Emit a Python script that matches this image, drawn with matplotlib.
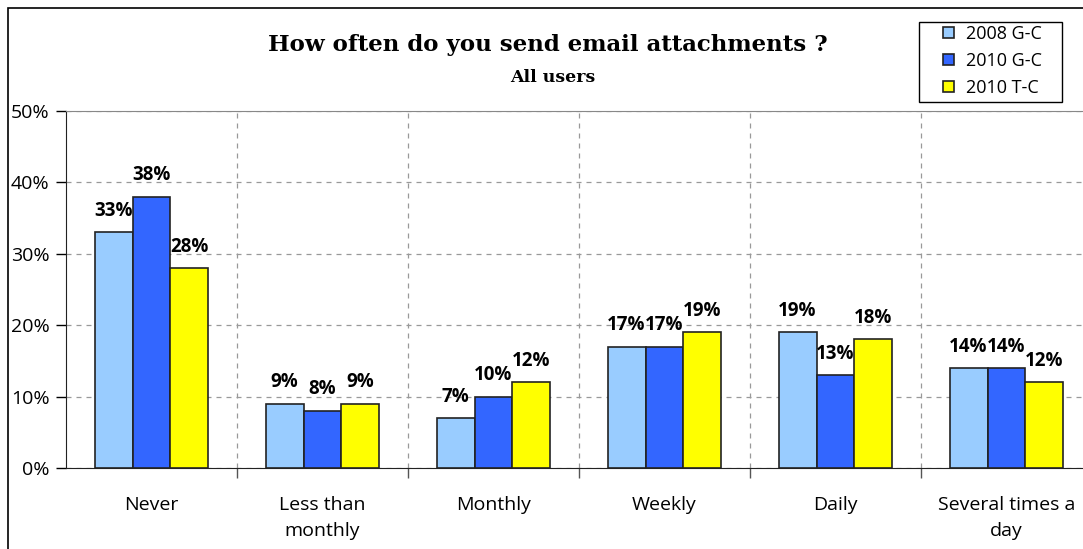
import numpy as np
import matplotlib
matplotlib.use("Agg")
import matplotlib.pyplot as plt
from matplotlib.patches import Rectangle

# data
categories = ["Never", "Less than\nmonthly", "Monthly", "Weekly", "Daily", "Several times a\nday"]
series_names = ["2008 G-C", "2010 G-C", "2010 T-C"]
g2008 = [33, 9, 7, 17, 19, 14]
g2010 = [38, 8, 10, 17, 13, 14]
t2010 = [28, 9, 12, 19, 18, 12]
colors = ["#99CCFF", "#3366FF", "#FFFF00"]

plt.rcParams['font.family'] = ['Open Sans', 'DejaVu Sans']

fig = plt.figure(figsize=(10.83, 5.49), dpi=100)
ax = fig.add_axes([66/1083, 81/549, 1026/1083, 357/549])

x = np.arange(len(categories))
w = 0.222
for i, (vals, name) in enumerate(zip([g2008, g2010, t2010], series_names)):
    pos = x + (i - 1) * w
    ax.bar(pos, vals, width=w, color=colors[i], edgecolor="#222222", linewidth=1.2, label=name, zorder=3)
    for px, v in zip(pos, vals):
        ax.text(px, v + 1.6, f"{v}%", ha="center", va="bottom", fontsize=13.5, fontweight="bold", zorder=4)

ax.set_xlim(-0.5, len(categories) - 0.5)
ax.set_ylim(0, 50)
ax.set_yticks(range(0, 51, 10))
ax.set_yticklabels([f"{v}%" for v in range(0, 51, 10)], fontsize=14)
ax.tick_params(axis="y", length=7, width=1, pad=5)

ax.set_xticks(x)
ax.set_xticklabels(categories, fontsize=14, linespacing=1.6)
ax.tick_params(axis="x", which="major", length=0, pad=20)
ax.set_xticks(np.arange(0.5, len(categories) - 0.5), minor=True)
ax.tick_params(axis="x", which="minor", length=7, width=1, color="#555555")

ax.grid(axis="y", linestyle=(0, (4, 4)), color="#999999", linewidth=0.9, zorder=0)
ax.grid(axis="x", which="minor", linestyle=(0, (4, 4)), color="#999999", linewidth=0.9, zorder=0)
ax.spines["top"].set_color("#888888")
ax.spines["right"].set_visible(False)
ax.spines["left"].set_color("#222222")
ax.spines["bottom"].set_color("#222222")

# outer chart frame
fig.patches.append(Rectangle((8/1083, -0.2), 1.2, 1 - 8/549 + 0.2, transform=fig.transFigure,
                             fill=False, edgecolor="black", linewidth=1.2))

fig.text(548/1083, 1 - 45/549, "How often do you send email attachments ?", ha="center", va="center",
         fontsize=16.5, fontweight="bold", family="DejaVu Serif")
fig.text(553/1083, 1 - 77/549, "All users", ha="center", va="center",
         fontsize=12.5, fontweight="bold", family="DejaVu Serif")

# legend with a hand-drawn box (wide side padding like the original)
fig.patches.append(Rectangle((919/1083, 1 - 102/549), 143/1083, 80/549, transform=fig.transFigure,
                             facecolor="white", edgecolor="black", linewidth=1.0, zorder=5))
leg = fig.legend(loc="upper left", bbox_to_anchor=(943/1083, 1 - 25/549), fontsize=13,
                 frameon=False, handlelength=0.6, handleheight=0.6,
                 handletextpad=0.7, labelspacing=0.5, borderpad=0, borderaxespad=0)
leg.set_zorder(6)

fig.savefig("out.png", dpi=100)
